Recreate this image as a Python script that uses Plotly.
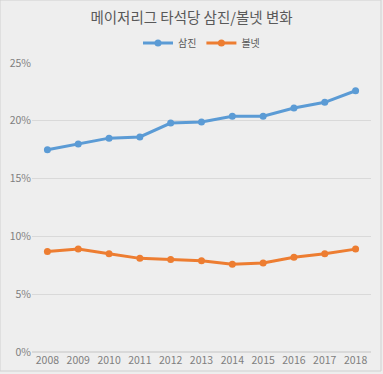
import plotly.graph_objects as go

years = ["2008", "2009", "2010", "2011", "2012", "2013", "2014", "2015", "2016", "2017", "2018"]
strikeouts = [17.5, 18.0, 18.5, 18.6, 19.8, 19.9, 20.4, 20.4, 21.1, 21.6, 22.6]
walks = [8.7, 8.9, 8.5, 8.1, 8.0, 7.9, 7.6, 7.7, 8.2, 8.5, 8.9]
y_ticks = [0, 5, 10, 15, 20, 25]
y_labels = ["0%", "5%", "10%", "15%", "20%", "25%"]

font = "Noto Sans CJK KR"
W, H = 383, 374
L, R, T, B = 32, 12, 63, 22
pw, ph = W - L - R, H - T - B

fig = go.Figure()
fig.add_trace(go.Scatter(x=years, y=strikeouts, name="삼진", mode="lines+markers",
                         line=dict(color="#5B9BD5", width=3), marker=dict(size=7, color="#5B9BD5")))
fig.add_trace(go.Scatter(x=years, y=walks, name="볼넷", mode="lines+markers",
                         line=dict(color="#ED7D31", width=3), marker=dict(size=7, color="#ED7D31")))

fig.update_layout(
    width=W, height=H,
    paper_bgcolor="#EEEEEE", plot_bgcolor="#EEEEEE",
    margin=dict(l=L, r=R, t=T, b=B, autoexpand=False),
    title=dict(text="메이저리그 타석당 삼진/볼넷 변화", x=0.5, xanchor="center", y=1 - 18 / H, yanchor="middle",
               font=dict(family=font, size=14.5, color="#595959")),
    legend=dict(orientation="h", x=0.5, xanchor="center", y=(H - B - 43) / ph, yanchor="middle",
                font=dict(family=font, size=10, color="#595959"), bgcolor="rgba(0,0,0,0)",
                itemwidth=30, tracegroupgap=0),
    xaxis=dict(type="category", range=[-0.5, 10.5], showgrid=False, showline=False, ticks="",
               tickfont=dict(family=font, size=10.5, color="#7F7F7F")),
    yaxis=dict(range=[0, 25], tickvals=y_ticks, ticktext=y_labels, showgrid=True,
               gridcolor="#D9D9D9", gridwidth=1, zeroline=True, zerolinecolor="#D9D9D9",
               ticks="", tickfont=dict(family=font, size=10.5, color="#7F7F7F")),
    shapes=[dict(type="rect", xref="paper", yref="paper", x0=-L / pw, x1=(381 - L) / pw,
                 y0=-(371 - (H - B)) / ph, y1=(H - B) / ph, line=dict(color="#D0D0D0", width=1))],
    showlegend=True,
)
fig.write_html("out.html", config={"displayModeBar": False},
               post_script="document.body.style.margin='0';")
